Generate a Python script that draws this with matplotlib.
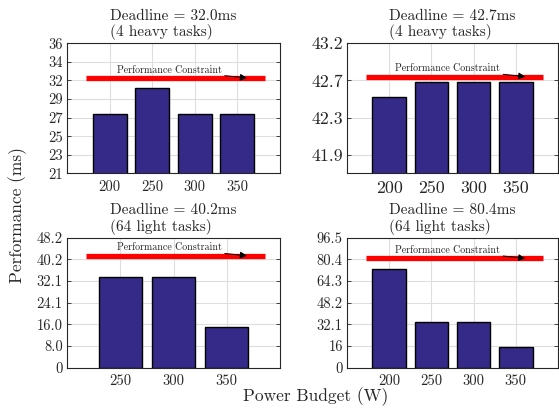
import matplotlib
matplotlib.use("Agg")
import matplotlib.pyplot as plt
import numpy as np

plt.rcParams['font.family'] = ['cmr10', 'DejaVu Serif']
plt.rcParams['axes.formatter.use_mathtext'] = True
plt.rcParams['mathtext.fontset'] = 'cm'

# ---- data ----
budgets_a = ["200", "250", "300", "350"]
perf_a = [27.9, 30.8, 27.8, 27.9]
deadline_a = 32.0
ylim_a = (21, 36)
yticklabels_a = ["21", "23", "25", "27", "29", "32", "34", "36"]
title_a = "Deadline = 32.0ms\n(4 heavy tasks)"

budgets_b = ["200", "250", "300", "350"]
perf_b = [42.54, 42.72, 42.72, 42.72]
deadline_b = 42.79
ylim_b = (41.6, 43.2)
yticklabels_b = ["41.9", "42.3", "42.7", "43.2"]
title_b = "Deadline = 42.7ms\n(4 heavy tasks)"

budgets_c = ["250", "300", "350"]
perf_c = [33.6, 33.6, 15.0]
deadline_c = 41.5
ylim_c = (0, 48.2)
yticklabels_c = ["0", "8.0", "16.0", "24.1", "32.1", "40.2", "48.2"]
title_c = "Deadline = 40.2ms\n(64 light tasks)"

budgets_d = ["200", "250", "300", "350"]
perf_d = [73.3, 33.7, 33.7, 15.4]
deadline_d = 81.2
ylim_d = (0, 96.5)
yticklabels_d = ["0", "16", "32.1", "48.2", "64.3", "80.4", "96.5"]
title_d = "Deadline = 80.4ms\n(64 light tasks)"

annot_text = "Performance Constraint"
xlabel = "Power Budget (W)"
ylabel = "Performance (ms)"

BAR = "#352a87"
SPINE = "#262626"

fig = plt.figure(figsize=(5.59, 4.11), dpi=100)

H = 130 / 411
positions = [
    (67 / 559, 1 - 173.3 / 411, 213 / 559),
    (347 / 559, 1 - 173.3 / 411, 211 / 559),
    (67 / 559, 1 - 367.7 / 411, 213 / 559),
    (347 / 559, 1 - 367.7 / 411, 211 / 559),
]

panels = [
    (budgets_a, perf_a, deadline_a, ylim_a, yticklabels_a, title_a, "all", 10.5, 10.5),
    (budgets_b, perf_b, deadline_b, ylim_b, yticklabels_b, title_b, "odd", 12.8, 12.8),
    (budgets_c, perf_c, deadline_c, ylim_c, yticklabels_c, title_c, "all", 10.5, 10.5),
    (budgets_d, perf_d, deadline_d, ylim_d, yticklabels_d, title_d, "all", 10.5, 10.5),
]

for (x0, y0, w), (cats, vals, dl, ylim, ylabs, title, mode, yfs, xfs) in zip(positions, panels):
    ax = fig.add_axes([x0, y0, w, H])
    xs = np.arange(1, len(cats) + 1)
    ax.bar(xs, vals, width=0.8, color=BAR, edgecolor="black", linewidth=1.0, zorder=3)
    ax.set_xlim(0, len(cats) + 1)
    ax.set_ylim(*ylim)
    if mode == "all":
        yt = np.linspace(ylim[0], ylim[1], len(ylabs))
    else:
        yt = ylim[0] + (ylim[1] - ylim[0]) * np.array([1, 3, 5, 7]) / 7
    ax.set_yticks(yt)
    ax.set_yticklabels(ylabs, fontsize=yfs, color=SPINE)
    ax.set_xticks(xs)
    ax.set_xticklabels(cats, fontsize=xfs, color=SPINE)
    ax.grid(True, color="#dedede", linewidth=0.8, zorder=0)
    ax.set_axisbelow(True)
    for s in ax.spines.values():
        s.set_color(SPINE)
        s.set_linewidth(0.8)
    ax.tick_params(direction="in", length=3, width=0.6, color=SPINE,
                   left=True, right=True, top=False, bottom=False, pad=3)
    ax.tick_params(axis="x", pad=5)
    ax.axhline(dl, xmin=0.088, xmax=0.93, color="red", linewidth=3.8,
               solid_capstyle="butt", zorder=4)
    ax.annotate(annot_text, xy=(0.845, dl), xycoords=("axes fraction", "data"),
                xytext=(-18, 5.8), textcoords="offset points",
                ha="right", va="center", fontsize=7.2, color=SPINE, zorder=5,
                arrowprops=dict(arrowstyle="-|>", color="black", lw=0.7,
                                shrinkA=0, shrinkB=0, mutation_scale=10))
    ax.set_title(title, fontsize=11, color=SPINE, multialignment="left", pad=5,
                 linespacing=1.15)

fig.text(0.032, 1 - 215 / 411, ylabel, rotation=90, ha="center", va="center",
         fontsize=12.5, color=SPINE)
fig.text(316 / 559, 1 - 397 / 411, xlabel, ha="center", va="center",
         fontsize=12.5, color=SPINE)

fig.savefig("out.png", dpi=100)
